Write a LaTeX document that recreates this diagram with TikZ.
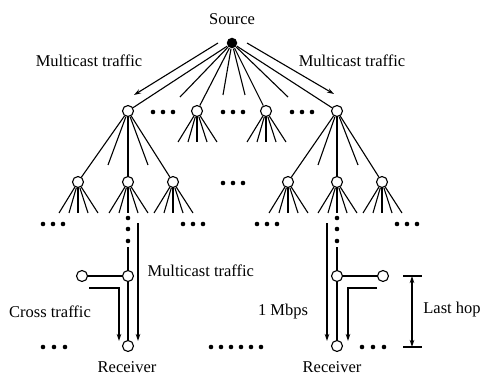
\documentclass[tikz,border=0pt]{standalone}
\usepackage{fontspec}
\setmainfont{Liberation Serif}
\usetikzlibrary{arrows.meta}
\begin{document}
\begin{tikzpicture}[x=1pt, y=-1pt, >={Stealth[length=7pt,width=4.5pt]}, line width=1.1pt,
  rnode/.style={circle, draw, fill=white, inner sep=0pt, minimum size=11pt},
  src/.style={circle, fill=black, inner sep=0pt, minimum size=10.5pt},
  lbl/.style={font=\fontsize{16.5}{19}\selectfont, inner sep=1pt}]
  \useasboundingbox (0,0) rectangle (481,379);

  % Source and first level
  \node[src] (S) at (232,43) {};
  \node[lbl] (srclbl) at (232,19) {Source};
  \node[rnode] (A1) at (128,111) {};
  \node[rnode] (A2) at (197,111) {};
  \node[rnode] (A3) at (266,111) {};
  \node[rnode] (A4) at (337,111) {};
  \draw (S) -- (A1);
  \draw (S) -- (A2);
  \draw (S) -- (A3);
  \draw (S) -- (A4);
  \foreach \dx/\dy in {-52/54, -9/52, 13/52, 56/54}
    \draw (S) -- +(\dx,\dy);
  \foreach \x in {153,163,173, 223,233,243, 292,302,312}
    \fill (\x,112) circle (2.3);

  % Multicast arrows from the source
  \coordinate (ML0) at (218,43);
  \coordinate (ML1) at (134,95);
  \coordinate (MR0) at (247,43);
  \coordinate (MR1) at (334,94);
  \draw[->] (ML0) -- (ML1);
  \draw[->] (MR0) -- (MR1);
  \node[lbl] (mcl) at (89,61) {Multicast traffic};
  \node[lbl] (mcr) at (352,61) {Multicast traffic};

  % Second level
  \node[rnode] (B1) at (78,182) {};
  \node[rnode] (B2) at (128,182) {};
  \node[rnode] (B3) at (173,182) {};
  \node[rnode] (B4) at (288,182) {};
  \node[rnode] (B5) at (337,182) {};
  \node[rnode] (B6) at (382,182) {};
  \draw (A1) -- (B1);
  \draw (A1) -- (B2);
  \draw (A1) -- (B3);
  \draw (A4) -- (B4);
  \draw (A4) -- (B5);
  \draw (A4) -- (B6);
  \draw (A1) -- +(-20,54);
  \draw (A1) -- +(20,54);
  \draw (A4) -- +(-19,54);
  \draw (A4) -- +(21,54);
  \foreach \n in {A2,A3,B1,B2,B3,B4,B5,B6}
    \foreach \dx in {-19,-9,0,10,20}
      \draw (\n) -- +(\dx,31);
  \foreach \x in {223,233,243}
    \fill (\x,183) circle (2.3);
  \foreach \x in {43,53,63, 183,193,203, 257,267,277, 397,407,417}
    \fill (\x,224) circle (2.3);
  \foreach \y in {218,229,241} {
    \fill (128,\y) circle (2.3);
    \fill (337,\y) circle (2.3);
  }

  % Last hop, left
  \node[rnode] (M1) at (128,276) {};
  \node[rnode] (C1) at (82,276) {};
  \node[rnode] (R1) at (128,346) {};
  \coordinate (V1) at (128,247);
  \draw (V1) -- (M1);
  \draw (C1) -- (M1);
  \draw (M1) -- (R1);
  \coordinate (X1a) at (89,288);
  \coordinate (X1b) at (119,341);
  \draw[->] (X1a) -| (X1b);
  \coordinate (T1a) at (138,223);
  \coordinate (T1b) at (138,341);
  \draw[->] (T1a) -- (T1b);

  % Last hop, right
  \node[rnode] (M2) at (337,276) {};
  \node[rnode] (C2) at (383,276) {};
  \node[rnode] (R2) at (337,346) {};
  \coordinate (V2) at (337,247);
  \draw (V2) -- (M2);
  \draw (C2) -- (M2);
  \draw (M2) -- (R2);
  \coordinate (X2a) at (377,288);
  \coordinate (X2b) at (348,341);
  \draw[->] (X2a) -| (X2b);
  \coordinate (T2a) at (327,223);
  \coordinate (T2b) at (327,341);
  \draw[->] (T2a) -- (T2b);

  % Last hop marker
  \coordinate (H1) at (412,276);
  \coordinate (H2) at (412,347);
  \draw (403,276) -- (422,276);
  \draw (403,347) -- (422,347);
  \draw[<->] (H1) -- (H2);

  \foreach \x in {43,54,65, 211,221,231,241,251,261, 362,373,384}
    \fill (\x,347) circle (2.3);

  \node[lbl, anchor=west] (mcm) at (146,271) {Multicast traffic};
  \node[lbl] (cross) at (50,312) {Cross traffic};
  \node[lbl] (mbps) at (283,312) {1 Mbps};
  \node[lbl] (hop) at (452,310) {Last hop};
  \node[lbl] (rcv1) at (127,367) {Receiver};
  \node[lbl] (rcv2) at (332,367) {Receiver};
\end{tikzpicture}
\end{document}
